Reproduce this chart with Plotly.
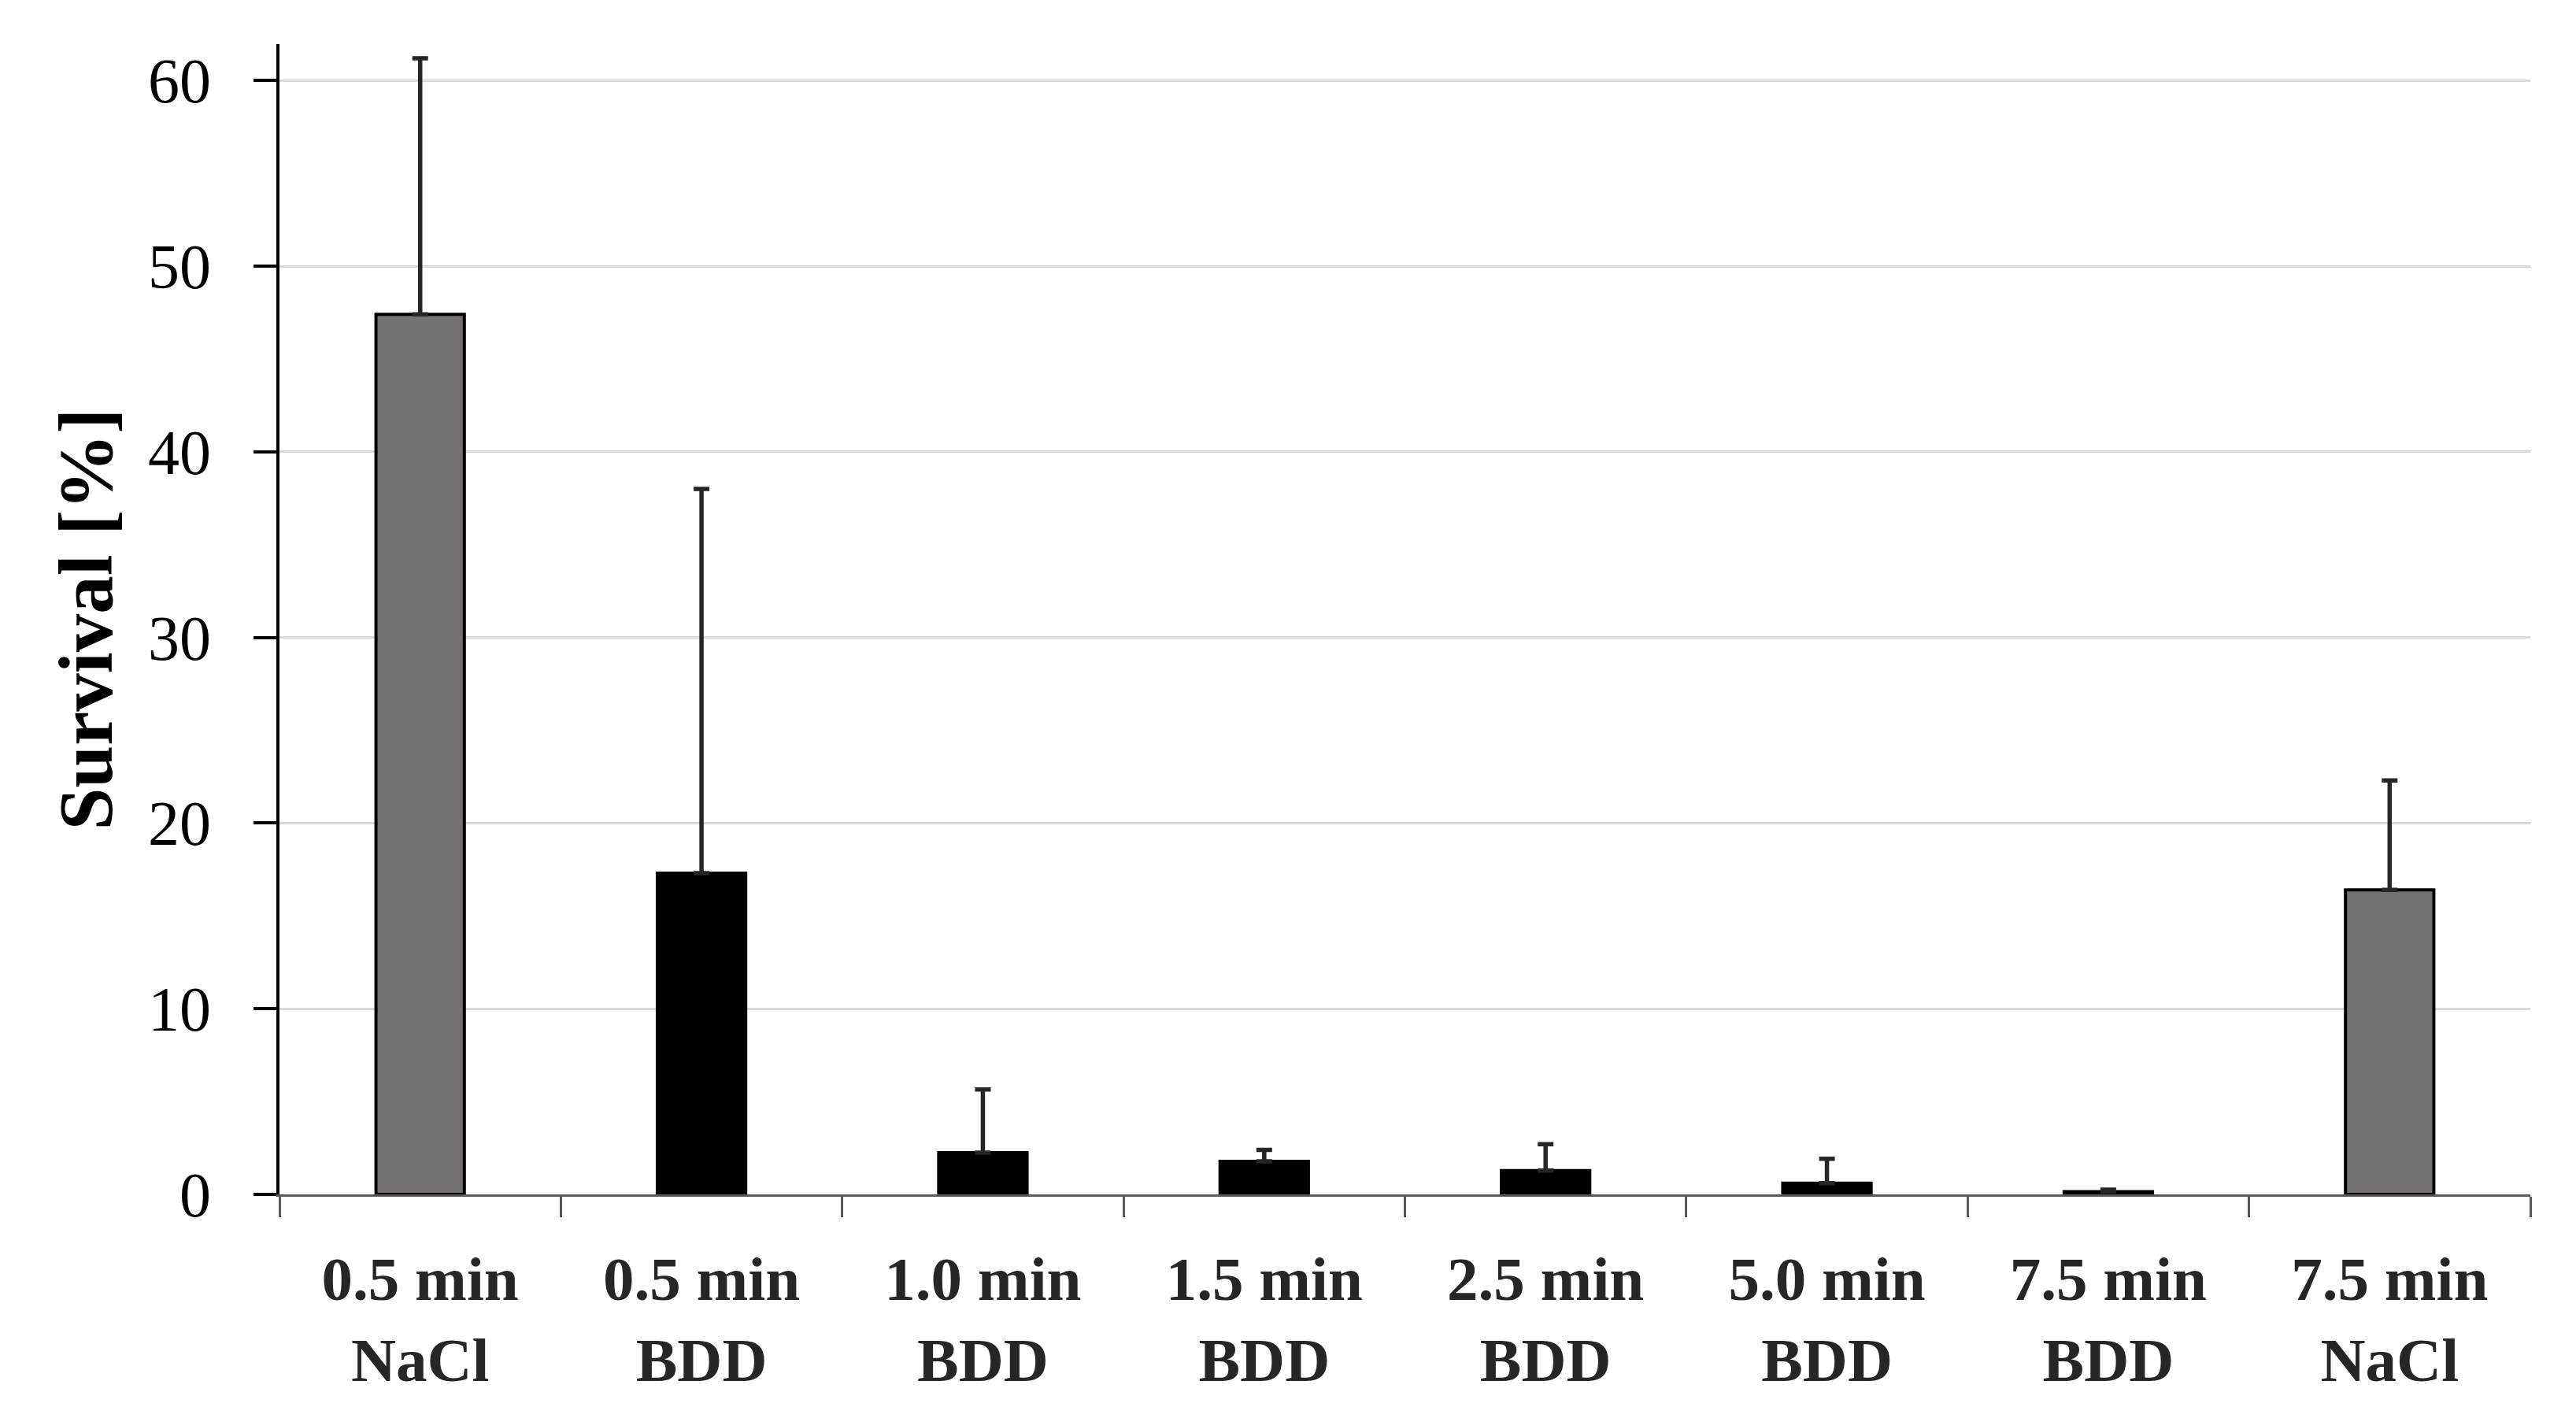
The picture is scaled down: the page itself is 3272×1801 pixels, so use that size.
import plotly.graph_objects as go

categories = ["0.5 min<br>NaCl", "0.5 min<br>BDD", "1.0 min<br>BDD", "1.5 min<br>BDD",
              "2.5 min<br>BDD", "5.0 min<br>BDD", "7.5 min<br>BDD", "7.5 min<br>NaCl"]
survival = [47.4, 17.3, 2.25, 1.78, 1.28, 0.6, 0.15, 16.4]
error_plus = [13.8, 20.7, 3.4, 0.62, 1.42, 1.32, 0.1, 5.9]
bar_colors = ["#767171", "#000000", "#000000", "#000000", "#000000", "#000000", "#000000", "#767171"]
y_ticks = [0, 10, 20, 30, 40, 50, 60]

SERIF = "Liberation Serif"

fig = go.Figure()
fig.add_trace(go.Bar(
    x=categories,
    y=survival,
    marker=dict(color=bar_colors, line=dict(color="#000000", width=4)),
    error_y=dict(type="data", symmetric=False, array=error_plus,
                 arrayminus=[0] * len(survival),
                 color="#262626", thickness=5.5, width=10),
    showlegend=False,
))

fig.update_layout(
    width=3272, height=1801,
    margin=dict(l=347, r=66, t=48, b=292),
    paper_bgcolor="white", plot_bgcolor="white",
    bargap=0.686,
    font=dict(family=SERIF, color="#000000"),
)

fig.update_xaxes(
    type="category",
    showline=True, linecolor="#595959", linewidth=3,
    ticks="outside", tickson="boundaries", ticklen=26, tickwidth=3, tickcolor="#595959",
    tickfont=dict(family=SERIF, size=79, color="#262626", weight="bold"),
    ticklabelstandoff=36,
    showgrid=False, zeroline=False,
)

fig.update_yaxes(
    range=[0, 61.96],
    tickvals=y_ticks,
    showline=True, linecolor="#000000", linewidth=4,
    ticks="outside", ticklen=29, tickwidth=4, tickcolor="#000000",
    tickfont=dict(family=SERIF, size=80, color="#000000"),
    ticklabelstandoff=38,
    showgrid=True, gridcolor="#d9d9d9", gridwidth=3,
    zeroline=False,
    title=dict(text="Survival [%]", font=dict(family=SERIF, size=97, color="#000000", weight="bold"),
               standoff=14),
)

fig.write_html("out.html")
